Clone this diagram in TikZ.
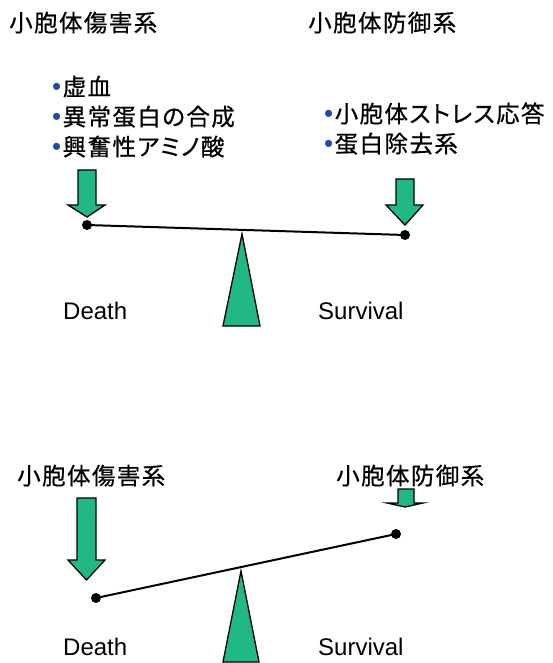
\documentclass[tikz,border=0pt]{standalone}
\usepackage{fontspec}
\setmainfont{Liberation Sans}
\newfontfamily\cjk{Noto Sans CJK JP}[LetterSpace=6, FakeBold=0.6]
\newfontfamily\cjkp{Noto Sans CJK JP}[LetterSpace=6, FakeBold=0.6, RawFeature=+palt]
\newfontfamily\bulfont{Liberation Sans}
\definecolor{seesaw}{RGB}{33,184,136}
\definecolor{bblue}{RGB}{35,75,170}
\newcommand\bulletmark{\makebox[10.5pt][l]{\color{bblue}\fontsize{26}{26}\selectfont\bulfont •}}
\tikzset{
  jtitle/.style={anchor=base west, inner sep=0pt, font=\cjk\fontsize{23.5}{23.5}\selectfont},
  jitem/.style={anchor=base west, inner sep=0pt, font=\cjkp\fontsize{23.5}{23.5}\selectfont},
  elabel/.style={anchor=base west, inner sep=0pt, font=\fontsize{24}{24}\selectfont},
  greenshape/.style={fill=seesaw, draw=black, line width=1.3pt, line join=miter},
  pivot/.style={circle, fill=black, inner sep=0pt, minimum size=10pt},
  beam/.style={line width=2pt}
}
\begin{document}
\begin{tikzpicture}[x=1pt,y=-1pt]
\useasboundingbox (0,0) rectangle (552,663);
% ---------- upper balance ----------
\node[jtitle] (t1) at (9,31.5) {小胞体傷害系};
\node[jtitle] (t2) at (308,31.5) {小胞体防御系};
\node[jitem] (a1) at (52,95.5) {\bulletmark 虚血};
\node[jitem] (a2) at (52,125.5) {\bulletmark 異常蛋白の合成};
\node[jitem] (a3) at (52,155.5) {\bulletmark 興奮性アミノ酸};
\node[jitem] (b1) at (324,122.5) {\bulletmark 小胞体ストレス応答};
\node[jitem] (b2) at (324,152.5) {\bulletmark 蛋白除去系};
\draw[greenshape] (78,170) -- (96,170) -- (96,205) -- (105,205) -- (87,217) -- (68,205) -- (78,205) -- cycle;
\draw[greenshape] (396,179) -- (414,179) -- (414,205) -- (423,205) -- (405,225) -- (386,205) -- (396,205) -- cycle;
\draw[greenshape] (242,234) -- (260,326) -- (223,326) -- cycle;
\node[pivot] (p1) at (87,225) {};
\node[pivot] (p2) at (405,235) {};
\draw[beam] (p1.center) -- (p2.center);
\node[elabel] (d1) at (63,319) {Death};
\node[elabel] (s1) at (318,319) {Survival};
% ---------- lower balance ----------
\node[jtitle] (t3) at (17,484.5) {小胞体傷害系};
\node[jtitle] (t4) at (336,484.5) {小胞体防御系};
\draw[greenshape] (77,498) -- (96,498) -- (96,560) -- (105,560) -- (86.5,580) -- (68,560) -- (77,560) -- cycle;
\draw[greenshape] (398,489) -- (414,489) -- (414,503) -- (423,503) -- (405,507) -- (387,503) -- (398,503) -- cycle;
\draw[greenshape] (241,571) -- (259,662) -- (223,662) -- cycle;
\node[pivot] (p3) at (96,598) {};
\node[pivot] (p4) at (396,534) {};
\draw[beam] (p3.center) -- (p4.center);
\node[elabel] (d2) at (63,655) {Death};
\node[elabel] (s2) at (318,655) {Survival};
\end{tikzpicture}
\end{document}
